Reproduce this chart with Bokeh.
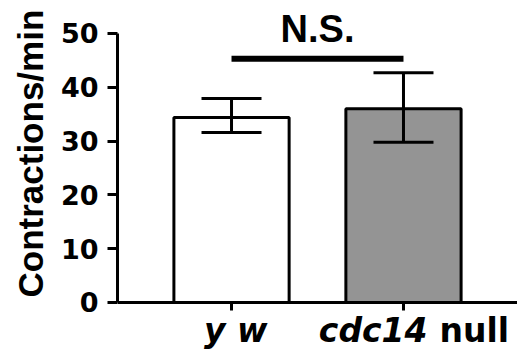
from bokeh.plotting import figure
from bokeh.models import (ColumnDataSource, FactorRange, Range1d, Whisker, TeeHead,
                          Label, FixedTicker, Title)
from bokeh.embed import file_html
from bokeh.resources import INLINE

# ---- data ----
categories = ["y w", "cdc14 null"]
italic_part = ["y w", "cdc14"]
plain_part = ["", "null"]
means = [34.4, 36.0]
err_upper = [37.9, 42.7]
err_lower = [31.6, 29.8]
bar_colors = ["#ffffff", "#949494"]
y_ticks = [0, 10, 20, 30, 40, 50]
sig_y = 45.3
sig_text = "N.S."
y_label = "Contractions/min"

src = ColumnDataSource(dict(x=categories, top=means, upper=err_upper,
                            lower=err_lower, color=bar_colors))

p = figure(width=517, height=349, output_backend="svg", toolbar_location=None,
           x_range=FactorRange(*categories, range_padding=0.163,
                               range_padding_units="absolute"),
           y_range=Range1d(-8.74, 56.13),
           min_border_left=117, min_border_right=0, min_border_top=0,
           min_border_bottom=0)
p.outline_line_color = None
p.grid.visible = False
p.background_fill_color = "white"

p.vbar(x="x", top="top", width=0.67, bottom=0, source=src, fill_color="color",
       line_color="black", line_width=3)

w = Whisker(base="x", upper="upper", lower="lower", source=src, line_width=3,
            line_color="black", level="overlay",
            upper_head=TeeHead(size=60, line_width=3, line_color="black"),
            lower_head=TeeHead(size=60, line_width=3, line_color="black"))
p.add_layout(w)

p.segment(x0=[categories[0]], y0=[sig_y], x1=[categories[1]], y1=[sig_y],
          line_width=6, line_color="black")
p.add_layout(Label(x=len(categories) / 2, y=sig_y, y_offset=30, text=sig_text,
                   text_align="center", text_baseline="alphabetic",
                   text_font="Liberation Sans", text_font_style="bold",
                   text_font_size="38px", text_color="black"))

# y axis
ya = p.yaxis[0]
ya.ticker = FixedTicker(ticks=y_ticks)
ya.bounds = (y_ticks[0], y_ticks[-1])
ya.axis_line_width = 3
ya.major_tick_line_width = 3
ya.major_tick_out = 10
ya.major_tick_in = 0
ya.minor_tick_out = 0
ya.minor_tick_in = 0
ya.major_label_standoff = 9
ya.major_label_text_font = "DejaVu Sans"
ya.major_label_text_font_style = "bold"
ya.major_label_text_font_size = "27px"
ya.major_label_text_color = "black"

# y axis title, placed in the left panel
p.add_layout(Title(text=y_label, align="left", offset=52, vertical_align="bottom",
                   standoff=16, text_font="Liberation Sans", text_font_style="bold",
                   text_font_size="35px", text_color="black"), "left")

# x axis, pinned at y = 0 inside the frame
xa = p.xaxis[0]
xa.fixed_location = 0
xa.axis_line_width = 3
xa.major_tick_line_width = 3
xa.major_tick_out = 8
xa.major_tick_in = 0
xa.major_label_text_color = None

# category centres in the categorical scale's synthetic coordinates
offsets_it = [(36, "right"), (24, "right")]
for i, cat in enumerate(categories):
    xc = i + 0.5
    off, al = offsets_it[i]
    p.add_layout(Label(x=xc, y=0, x_offset=off, y_offset=-28, text=italic_part[i],
                       text_align=al, text_baseline="alphabetic",
                       text_font="DejaVu Sans", text_font_style="bold italic",
                       text_font_size="33px", text_color="black"))
    if plain_part[i]:
        p.add_layout(Label(x=xc, y=0, x_offset=36, y_offset=-28, text=plain_part[i],
                           text_align="left", text_baseline="alphabetic",
                           text_font="DejaVu Sans", text_font_style="bold",
                           text_font_size="33px", text_color="black"))

open("out.html", "w").write(file_html(p, INLINE))
